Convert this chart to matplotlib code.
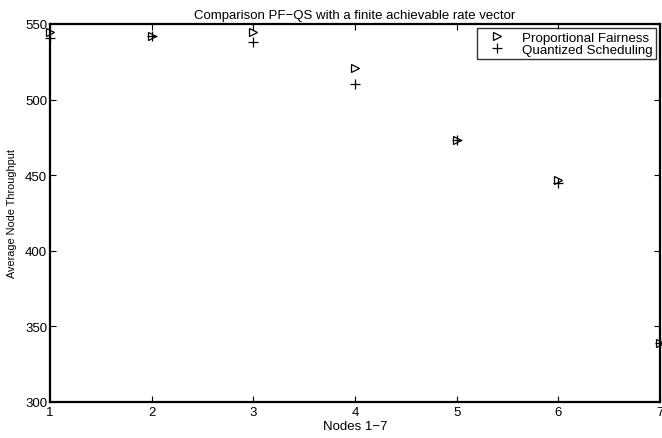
import matplotlib
matplotlib.use('Agg')
import matplotlib.pyplot as plt

nodes = [1, 2, 3, 4, 5, 6, 7]
pf = [545, 542, 545, 521, 473, 447, 339]
qs = [541, 542, 538, 510, 473, 445, 339]

plt.rcParams['font.family'] = ['Liberation Sans', 'DejaVu Sans']
fs = 9.5

fig = plt.figure(figsize=(6.62, 4.39), dpi=100)
ax = fig.add_axes((50/662, 1-403/439, 610/662, 378/439))

ax.plot(nodes, pf, linestyle='none', marker='>', markersize=6, markerfacecolor='none',
        markeredgecolor='black', markeredgewidth=0.9, label='Proportional Fairness', clip_on=False)
ax.plot(nodes, qs, linestyle='none', marker='+', markersize=7, color='black',
        markeredgewidth=0.9, label='Quantized Scheduling', clip_on=False)

ax.set_xlim(1, 7)
ax.set_ylim(300, 550)
ax.set_xticks(nodes)
ax.set_yticks([300, 350, 400, 450, 500, 550])
ax.tick_params(direction='in', length=4, width=0.8, top=True, right=True, labelsize=fs)
ax.tick_params(axis='x', pad=3)
ax.tick_params(axis='y', pad=2)
for s in ax.spines.values():
    s.set_linewidth(1.6)

ax.set_title('Comparison PF\u2212QS with a finite achievable rate vector', fontsize=fs, pad=4)
ax.set_xlabel('Nodes 1\u22127', fontsize=fs, labelpad=1)
ax.set_ylabel('Average Node Throughput', fontsize=7.8, labelpad=6)

leg = ax.legend(loc='upper right', fontsize=9.6, frameon=True, fancybox=False, edgecolor='black',
                borderpad=0.25, labelspacing=0.0, handlelength=2.4, handletextpad=0.7,
                borderaxespad=0.3)
leg.get_frame().set_linewidth(1.0)

fig.savefig('out.png', dpi=100)
